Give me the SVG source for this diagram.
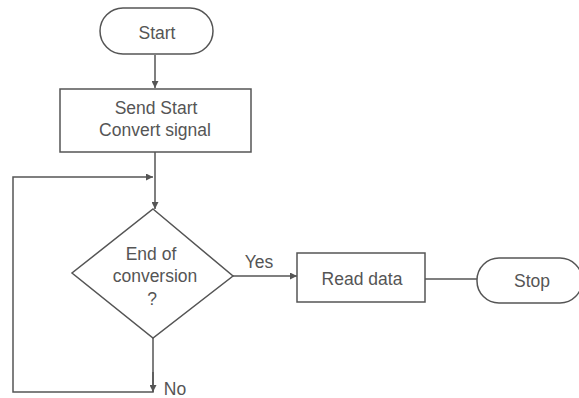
<svg xmlns="http://www.w3.org/2000/svg" width="579" height="398" viewBox="0 0 579 398">
<style>
.s{fill:none;stroke:#555;stroke-width:1.5}
.b{fill:#fff;stroke:#555;stroke-width:1.5}
text{font-family:"Liberation Sans",Arial,sans-serif;font-size:17.5px;fill:#555;text-anchor:middle}
</style>
<defs>
<marker id="a" viewBox="0 0 10 10" refX="10" refY="5" markerWidth="7" markerHeight="7" orient="auto" markerUnits="userSpaceOnUse"><path d="M0,0L10,5L0,10z" fill="#555"/></marker>
</defs>
<rect width="579" height="398" fill="#fff"/>
<g id="connectors">
<path class="s" d="M155,55V88" marker-end="url(#a)"/>
<path class="s" d="M155,152V209" marker-end="url(#a)"/>
<path class="s" d="M153,338V392H13V177H153" marker-end="url(#a)"/>
<path class="s" d="M233,276H297" marker-end="url(#a)"/>
<path class="s" d="M425,279H477"/>
<path class="s" d="M153,372V392" marker-end="url(#a)"/>
<text x="259" y="268">Yes</text>
<text x="175" y="395">No</text>
</g>
<g id="start">
<rect class="b" x="100" y="8" width="113" height="46" rx="23"/>
<text x="157" y="39">Start</text>
</g>
<g id="send">
<rect class="b" x="60" y="89" width="191" height="63"/>
<text x="156" y="114">Send Start</text>
<text x="155" y="136">Convert signal</text>
</g>
<g id="decision">
<path class="b" d="M153,209L233,276L153,338L72,273Z"/>
<text x="151" y="260">End of</text>
<text x="155" y="282">conversion</text>
<text x="152" y="305">?</text>
</g>
<g id="read">
<rect class="b" x="297" y="253" width="128" height="49"/>
<text x="362" y="285">Read data</text>
</g>
<g id="stop">
<rect class="b" x="477" y="258" width="105" height="45" rx="22"/>
<text x="532" y="287">Stop</text>
</g>
</svg>
